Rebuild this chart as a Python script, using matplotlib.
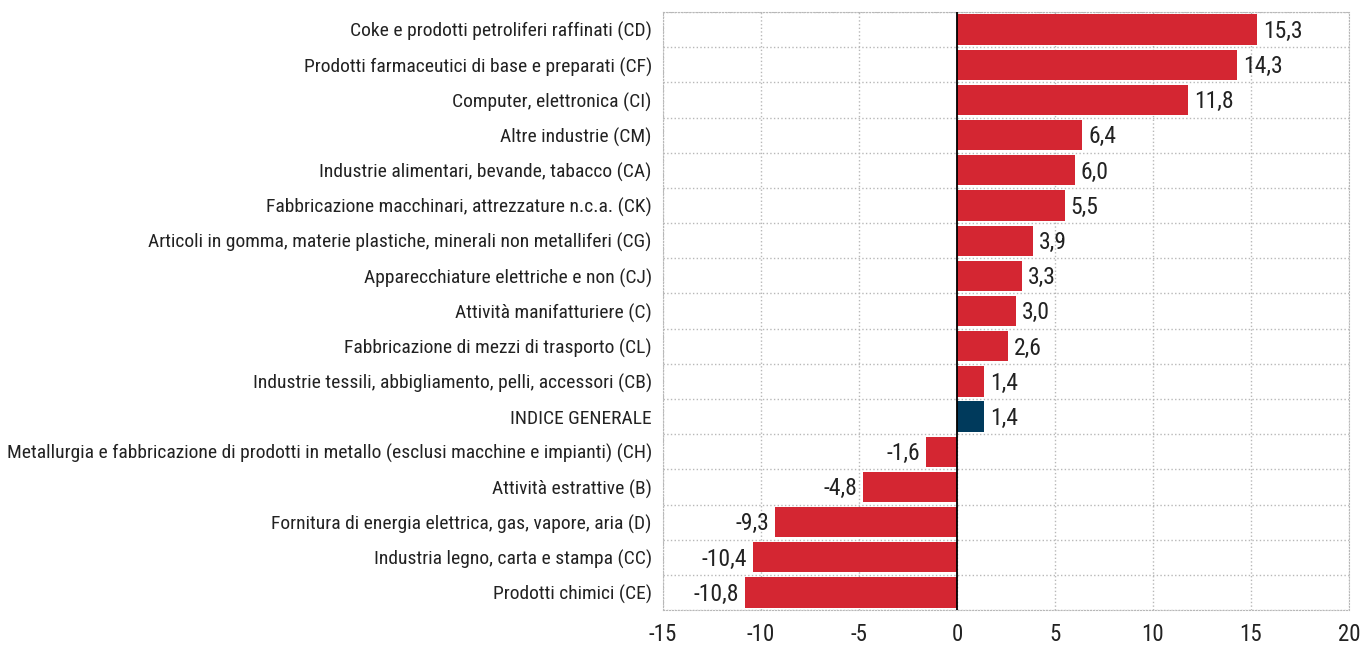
import matplotlib
matplotlib.use('Agg')
import matplotlib.pyplot as plt
import numpy as np
from matplotlib import font_manager

# prefer a narrow face, like the Arial Narrow in the original
fonts = font_manager.fontManager.ttflist
narrow = None
for cand in ['Liberation Sans Narrow', 'Roboto Condensed', 'Open Sans Condensed', 'Arial Narrow']:
    if any(f.name == cand for f in fonts):
        narrow = cand
        break
stretch = 'normal'
if narrow is None and any(f.name == 'DejaVu Sans' and f.stretch == 'condensed' for f in fonts):
    narrow, stretch = 'DejaVu Sans', 'condensed'
if narrow is None:
    narrow = 'Liberation Sans'
    label_size = 12.4
else:
    label_size = 14
plt.rcParams['font.family'] = [narrow, 'DejaVu Sans']
plt.rcParams['font.stretch'] = stretch

categories = [
    'Coke e prodotti petroliferi raffinati (CD)',
    'Prodotti farmaceutici di base e preparati (CF)',
    'Computer, elettronica (CI)',
    'Altre industrie (CM)',
    'Industrie alimentari, bevande, tabacco (CA)',
    'Fabbricazione macchinari, attrezzature n.c.a. (CK)',
    'Articoli in gomma, materie plastiche, minerali non metalliferi (CG)',
    'Apparecchiature elettriche e non (CJ)',
    'Attività manifatturiere (C)',
    'Fabbricazione di mezzi di trasporto (CL)',
    'Industrie tessili, abbigliamento, pelli, accessori (CB)',
    'INDICE GENERALE',
    'Metallurgia e fabbricazione di prodotti in metallo (esclusi macchine e impianti) (CH)',
    'Attività estrattive (B)',
    'Fornitura di energia elettrica, gas, vapore, aria (D)',
    'Industria legno, carta e stampa (CC)',
    'Prodotti chimici (CE)',
]
values = [15.3, 14.3, 11.8, 6.4, 6.0, 5.5, 3.9, 3.3, 3.0, 2.6, 1.4, 1.4,
          -1.6, -4.8, -9.3, -10.4, -10.8]
highlight = 'INDICE GENERALE'
xticks = [-15, -10, -5, 0, 5, 10, 15, 20]

red = '#D42632'
navy = '#003A5C'
colors = [navy if c == highlight else red for c in categories]

fig = plt.figure(figsize=(13.63, 6.49), dpi=100)
ax = fig.add_axes([0.4864, 0.060, 0.5033, 0.9215])

y = np.arange(len(categories))
ax.barh(y, values, height=0.86, color=colors, zorder=3)
ax.set_ylim(len(categories) - 0.5, -0.5)
ax.set_xlim(-15, 20)

for yi, v in zip(y, values):
    txt = f'{v:.1f}'.replace('.', ',')
    if v >= 0:
        ax.text(v + 0.3, yi + 0.05, txt, ha='left', va='center', fontsize=17, color='#222222')
    else:
        ax.text(v - 0.3, yi + 0.05, txt, ha='right', va='center', fontsize=17, color='#222222')

ax.set_yticks(y)
ax.set_yticklabels(categories, fontsize=label_size, color='#222222')
ax.set_yticks(np.arange(len(categories) + 1) - 0.5, minor=True)
ax.set_xticks(xticks)
ax.set_xticklabels([str(t) for t in xticks], fontsize=16.5, color='#222222')
ax.tick_params(axis='both', which='both', length=0)
ax.tick_params(axis='y', pad=8)
ax.tick_params(axis='x', pad=9)

ax.grid(True, axis='x', which='major', linestyle=':', color='#b8b8b8', linewidth=1, zorder=0)
ax.grid(True, axis='y', which='minor', linestyle=':', color='#b8b8b8', linewidth=1, zorder=0)
for s in ax.spines.values():
    s.set_linestyle(':')
    s.set_color('#b8b8b8')
ax.axvline(0, color='black', linewidth=1.3, zorder=4)

plt.savefig('out.png', dpi=100)
